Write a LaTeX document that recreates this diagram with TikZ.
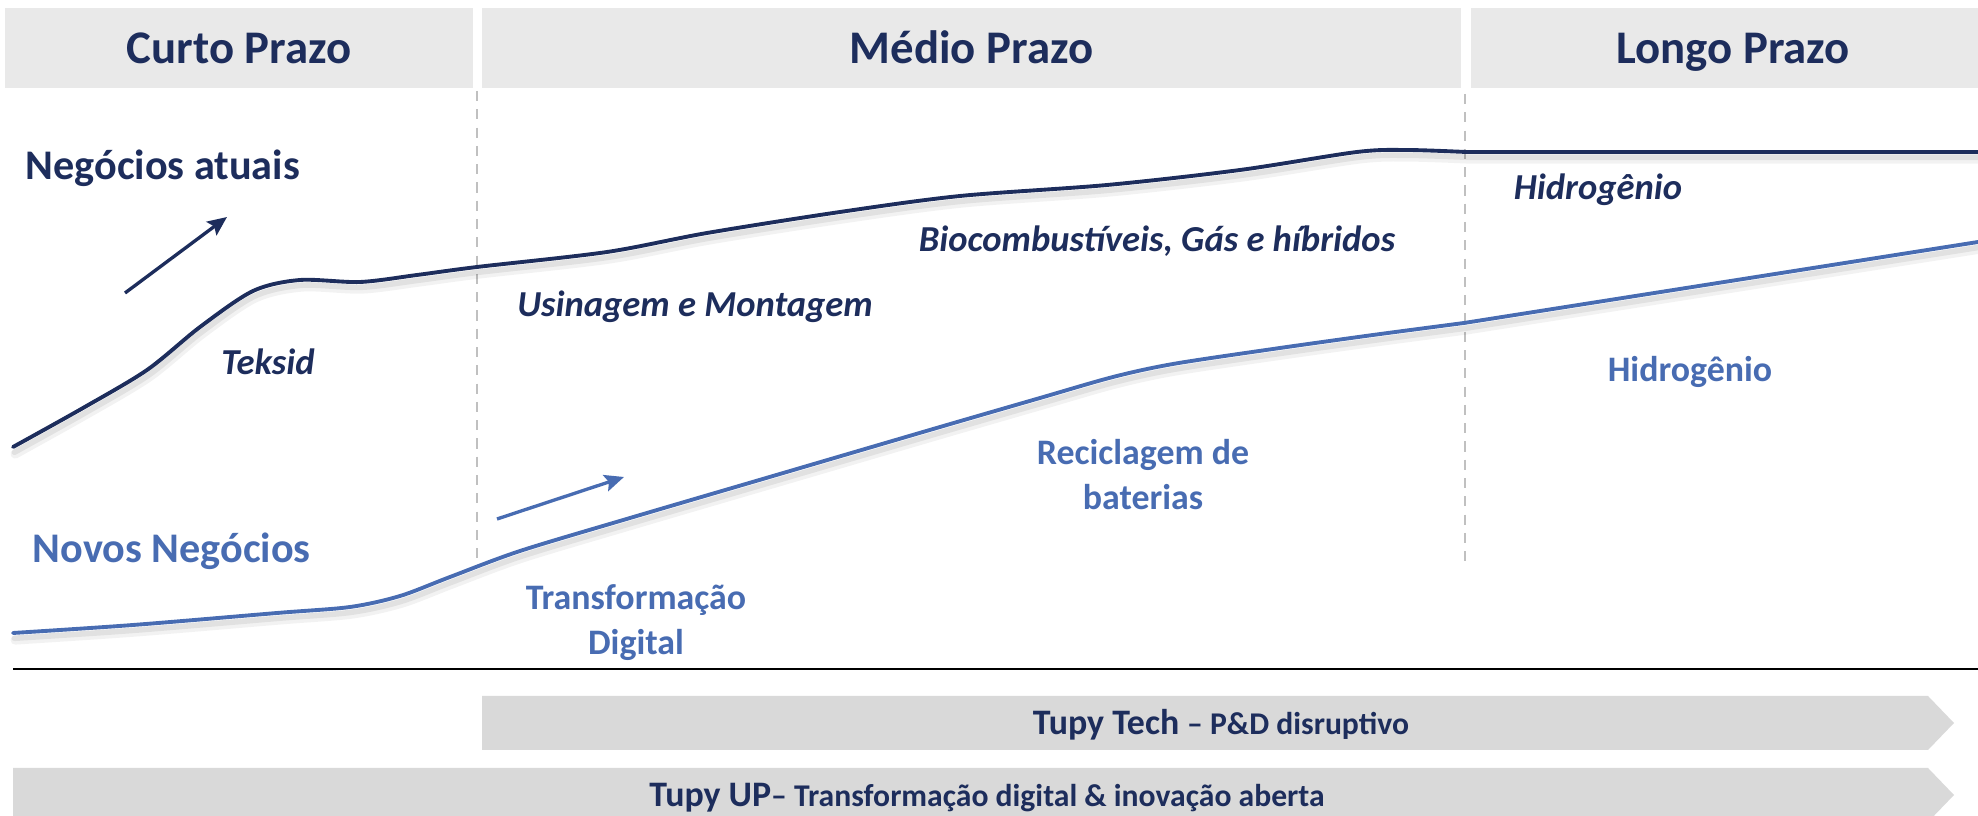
\documentclass[tikz,border=0pt]{standalone}
\usepackage{fontspec}
\setmainfont{Carlito}
\usepackage{tikz}
\usetikzlibrary{positioning, arrows.meta, calc}
\definecolor{navyDark}{RGB}{29,45,92}
\definecolor{blueLight}{RGB}{72,108,178}
\definecolor{greyHead}{RGB}{233,233,233}
\definecolor{greyBar}{RGB}{217,217,217}
\definecolor{greyDash}{RGB}{192,192,192}
\tikzset{
  headbox/.style={fill=greyHead, minimum height=0.8cm, inner sep=0pt, text height=8.6pt, text depth=0pt,
    font=\fontsize{13.3}{16}\selectfont\bfseries, text=navyDark},
  bizname/.style={anchor=base west, inner sep=0pt, font=\fontsize{12}{14}\selectfont\bfseries},
  olditem/.style={anchor=base, inner sep=0pt, text=navyDark, font=\fontsize{10.4}{12}\selectfont\bfseries\itshape},
  newitem/.style={anchor=base, inner sep=0pt, text=blueLight, font=\fontsize{10.2}{12}\selectfont\bfseries},
  divider/.style={greyDash, line width=0.55pt, dash pattern=on 2.9pt off 2.3pt},
  trendshadow/.style={black, line cap=round, line join=round},
  trendline/.style={line width=1.1pt, line cap=round, line join=round},
  pointer/.style={line width=0.95pt, -{Stealth[length=5.5pt, width=4.8pt, inset=1pt]}},
  bartext/.style={anchor=base, inner sep=0pt, text=navyDark}
}
\newcommand{\curveOld}{plot[smooth, tension=0.5] coordinates {(13,447) (83,408) (147,370) (200,327) (253,291)
  (300,280) (360,282) (417,275) (477,267) (607,252) (707,233) (840,212) (960,196) (1107,185) (1240,170)
  (1357,152) (1407,150) (1466,152)} -- (1978,152)}
\newcommand{\curveNew}{plot[smooth, tension=0.5] coordinates {(13,633) (133,625) (277,613) (350,607) (400,596)
  (450,577) (520,551) (630,518) (773,476) (940,427) (1040,398) (1113,377) (1173,364) (1273,349) (1373,335)
  (1464,323)} -- (1978,242)}

\begin{document}
\begin{tikzpicture}[x=0.01cm, y=-0.01cm]
  \clip (0,0) rectangle (1978,816);
  % horizon headers
  \node[headbox, minimum width=4.68cm] (curto) at (239,48) {Curto Prazo};
  \node[headbox, minimum width=9.79cm] (medio) at (971.5,48) {Médio Prazo};
  \node[headbox, minimum width=5.24cm] (longo) at (1733,48) {Longo Prazo};

  % dashed dividers between horizons
  \coordinate (divAtop) at (477,91);
  \coordinate (divAbot) at (477,562);
  \coordinate (divBtop) at (1465,94);
  \coordinate (divBbot) at (1465,563);
  \draw[divider] (divAtop) -- (divAbot);
  \draw[divider] (divBtop) -- (divBbot);

  % current business curve, with soft shadow
  \draw[trendshadow, line width=2.6pt, opacity=0.05, xshift=0.6pt, yshift=-2pt] \curveOld;
  \draw[trendshadow, line width=1.6pt, opacity=0.07, xshift=0.4pt, yshift=-1.5pt] \curveOld;
  \draw[trendline, navyDark] \curveOld;
  % new business curve
  \draw[trendshadow, line width=2.6pt, opacity=0.05, xshift=0.6pt, yshift=-2pt] \curveNew;
  \draw[trendshadow, line width=1.6pt, opacity=0.07, xshift=0.4pt, yshift=-1.5pt] \curveNew;
  \draw[trendline, blueLight] \curveNew;

  % growth arrows
  \coordinate (upA) at (125,293);
  \coordinate (upAend) at (227,217);
  \coordinate (upB) at (497,519);
  \coordinate (upBend) at (624,477);
  \draw[pointer, navyDark] (upA) -- (upAend);
  \draw[pointer, blueLight] (upB) -- (upBend);

  % business lines
  \node[bizname, text=navyDark] (atuais) at (25,180) {Negócios atuais};
  \node[bizname, text=blueLight] (novos) at (32,563) {Novos Negócios};

  % current business items
  \node[olditem] (teksid) at (268,375) {Teksid};
  \node[olditem] (usinagem) at (695,317) {Usinagem e Montagem};
  \node[olditem] (biocomb) at (1157,252) {Biocombustíveis, Gás e híbridos};
  \node[olditem] (hidroA) at (1598,200) {Hidrogênio};

  % new business items
  \node[newitem] (transf) at (636,610) {Transformação};
  \node[newitem] (digital) at (636,655) {Digital};
  \node[newitem] (recicla) at (1143,465) {Reciclagem de};
  \node[newitem] (baterias) at (1143,510) {baterias};
  \node[newitem] (hidroB) at (1690,382) {Hidrogênio};

  % baseline rule
  \coordinate (ruleL) at (13,669);
  \coordinate (ruleR) at (1978,669);
  \draw[black, line width=0.7pt] (ruleL) -- (ruleR);

  % programme bars
  \fill[greyBar] (482,696) -- (1928,696) -- (1954,723) -- (1928,750) -- (482,750) -- cycle;
  \fill[greyBar] (13,768) -- (1928,768) -- (1954,795) -- (1928,822) -- (13,822) -- cycle;
  \node[bartext] (tech) at (1221,735)
    {{\fontsize{10.2}{12}\selectfont\bfseries Tupy Tech} {\fontsize{9}{11}\selectfont\bfseries – P\&D disruptivo}};
  \node[bartext] (up) at (987,807)
    {{\fontsize{10.2}{12}\selectfont\bfseries Tupy UP}{\fontsize{9}{11}\selectfont\bfseries – Transformação digital \& inovação aberta}};
\end{tikzpicture}
\end{document}
